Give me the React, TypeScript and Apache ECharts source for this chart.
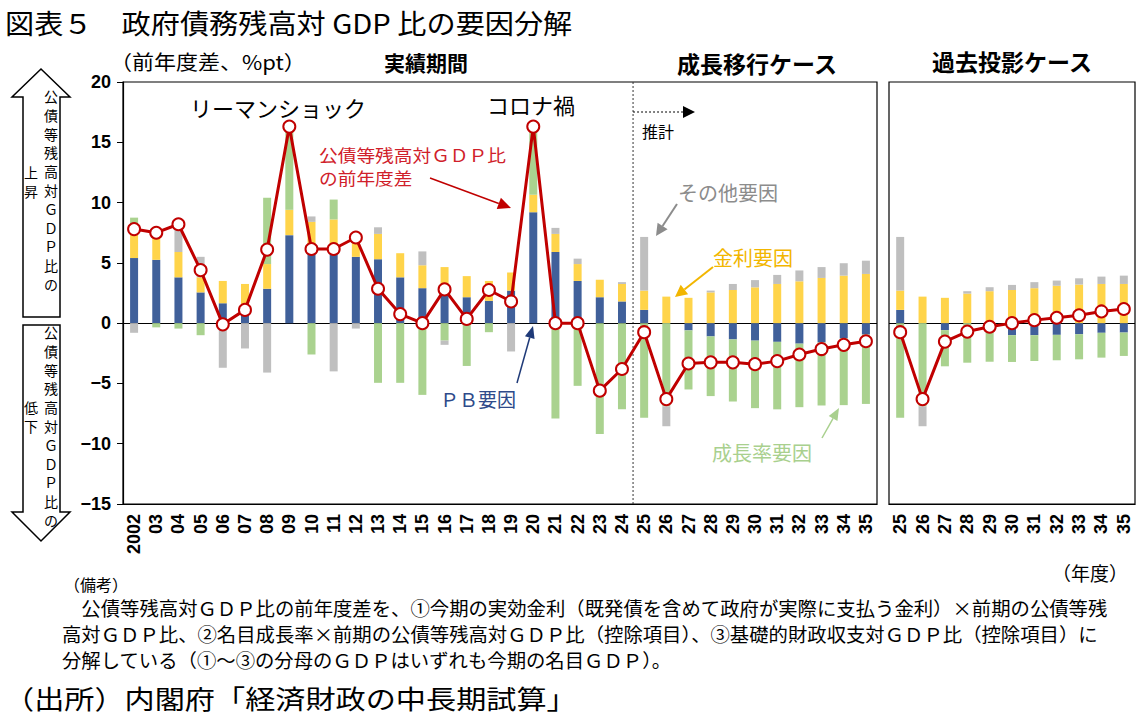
import React, { useEffect, useRef } from 'react';
import * as echarts from 'echarts';

// 年度ラベル（実績期間＋成長移行ケース）
const mainYears = [
  '2002', '03', '04', '05', '06', '07', '08', '09', '10', '11', '12', '13', '14', '15', '16', '17',
  '18', '19', '20', '21', '22', '23', '24', '25', '26', '27', '28', '29', '30', '31', '32', '33', '34', '35',
];
// 年度ラベル（過去投影ケース）
const pastYears = ['25', '26', '27', '28', '29', '30', '31', '32', '33', '34', '35'];

// 実績期間＋成長移行ケース（%pt）
const pbMain = [
  5.4, 5.25, 3.8, 2.55, 1.65, 1.0, 2.85, 7.3, 6.0, 5.9, 5.5, 5.3, 3.8, 2.9, 2.6, 2.15,
  1.85, 2.7, 9.2, 5.9, 3.5, 2.15, 1.8, 1.1, 0, -0.6, -1.1, -1.35, -1.45, -1.55, -1.7, -1.6, -1.25, -0.95,
];
const rateMain = [
  2.0, 1.9, 2.1, 1.25, 1.85, 2.25, 2.05, 2.1, 2.4, 2.7, 1.9, 2.1, 2.0, 1.9, 2.05, 1.75,
  1.65, 1.5, 1.45, 1.5, 1.4, 1.45, 1.45, 1.6, 2.2, 2.1, 2.55, 2.75, 2.97, 3.25, 3.47, 3.75, 3.94, 4.08,
];
const growthMain = [
  1.35, -0.35, -0.45, -1.0, 0, 0, 5.5, 6.9, -2.6, 1.65, 0, -4.95, -4.95, -5.95, -1.45, -3.55,
  -0.75, 0, 5.7, -7.9, -5.2, -9.2, -7.15, -7.85, -6.9, -4.9, -4.95, -5.15, -5.6, -5.6, -5.27, -5.23, -5.55, -5.75,
];
const otherMain = [
  -0.8, 0.7, 2.4, 1.7, -3.7, -2.1, -4.1, 0, 0.45, -4.0, -0.45, 0.55, 0, 1.15, -0.35, 0,
  0, -2.35, 0, 0.5, 0.45, 0, 0.15, 4.45, -1.65, 0, 0.15, 0.5, 0.6, 0.75, 0.9, 0.9, 1.03, 1.1,
];
const debtDiffMain = [
  7.8, 7.5, 8.2, 4.4, -0.1, 1.1, 6.1, 16.3, 6.15, 6.15, 7.1, 2.85, 0.75, 0.0, 2.8, 0.35,
  2.75, 1.8, 16.3, 0.0, 0.0, -5.6, -3.8, -0.75, -6.3, -3.35, -3.25, -3.25, -3.4, -3.15, -2.6, -2.15, -1.8, -1.5,
];

// 過去投影ケース（%pt）
const pbPast = [1.1, 0, -0.58, 0, -0.2, -1.0, -1.0, -0.97, -0.92, -0.8, -0.78];
const ratePast = [1.6, 2.2, 2.1, 2.45, 2.65, 2.75, 2.9, 3.1, 3.2, 3.25, 3.25];
const growthPast = [-7.85, -6.9, -3.0, -3.28, -3.0, -2.22, -2.14, -2.11, -2.08, -2.06, -1.94];
const otherPast = [4.45, -1.65, 0, 0.2, 0.33, 0.42, 0.5, 0.43, 0.52, 0.61, 0.69];
const debtDiffPast = [-0.75, -6.3, -1.53, -0.7, -0.3, 0.0, 0.25, 0.45, 0.65, 0.97, 1.17];

const Y_MIN = -15;
const Y_MAX = 20;
const Y_STEP = 5;

const C_PB = '#40609A';
const C_RATE = '#FFD44A';
const C_GROWTH = '#AAD28F';
const C_OTHER = '#BFBFBF';
const C_LINE = '#C00000';

const JP = '"Noto Sans CJK JP", "Noto Sans", sans-serif';
const NUM = '"Liberation Sans", Arial, sans-serif';

function barSeries(name: string, data: number[], color: string, idx: number) {
  return {
    type: 'bar',
    name,
    data,
    stack: 'factors' + idx,
    stackStrategy: 'samesign',
    xAxisIndex: idx,
    yAxisIndex: idx,
    barWidth: 8,
    itemStyle: { color },
    silent: true,
  };
}

function lineSeries(data: number[], idx: number) {
  return {
    type: 'line',
    name: '公債等残高対ＧＤＰ比の前年度差',
    data,
    xAxisIndex: idx,
    yAxisIndex: idx,
    symbol: 'circle',
    symbolSize: 12,
    z: 5,
    lineStyle: { color: C_LINE, width: 3 },
    itemStyle: { color: '#fff', borderColor: C_LINE, borderWidth: 2 },
    markLine: {
      silent: true,
      symbol: 'none',
      label: { show: false },
      lineStyle: { color: '#000', width: 1.2, type: 'solid' },
      data: [{ yAxis: 0 }],
      z: 1,
    },
  };
}

function arrow(x1: number, y1: number, x2: number, y2: number, color: string, width = 1.5, head = 12, half = 5) {
  const a = Math.atan2(y2 - y1, x2 - x1);
  const bx = x2 - head * Math.cos(a);
  const by = y2 - head * Math.sin(a);
  const px = -Math.sin(a) * half;
  const py = Math.cos(a) * half;
  return [
    { type: 'line', shape: { x1, y1, x2: bx, y2: by }, style: { stroke: color, lineWidth: width }, silent: true },
    {
      type: 'polygon',
      shape: { points: [[x2, y2], [bx + px, by + py], [bx - px, by - py]] },
      style: { fill: color },
      silent: true,
    },
  ];
}

function text(x: number, y: number, t: string, size: number, color = '#000', extra: any = {}, scaleX = 1) {
  return {
    type: 'text',
    x,
    y,
    scaleX,
    silent: true,
    style: {
      text: t,
      fontSize: size,
      fontFamily: JP,
      fill: color,
      align: 'left',
      verticalAlign: 'middle',
      ...extra,
    },
  };
}

// 縦書き：1文字ずつ下へ並べる
function vertical(x: number, y: number, t: string, size: number, step: number) {
  return Array.from(t).map((ch, i) => ({
    type: 'text',
    x,
    y: y + i * step,
    silent: true,
    style: {
      text: ch,
      fontSize: size,
      fontFamily: JP,
      fill: '#000',
      align: 'center',
      verticalAlign: 'top',
    },
  }));
}

function upDownArrows() {
  const up = [[41, 69], [70, 97], [60, 97], [60, 317], [23, 317], [23, 97], [12, 97]];
  const down = [[23, 325], [60, 325], [60, 512], [70, 512], [41, 541], [12, 512], [23, 512]];
  return [
    { type: 'polygon', shape: { points: up }, style: { fill: '#fff', stroke: '#000', lineWidth: 1.5 }, silent: true },
    { type: 'polygon', shape: { points: down }, style: { fill: '#fff', stroke: '#000', lineWidth: 1.5 }, silent: true },
    ...vertical(51, 89, '公債等残高対ＧＤＰ比の', 14, 18.8),
    ...vertical(31, 165, '上昇', 14, 19),
    ...vertical(51, 325, '公債等残高対ＧＤＰ比の', 14, 18.8),
    ...vertical(31, 400, '低下', 14, 19),
  ];
}

function yAxis(idx: number) {
  return {
    type: 'value',
    gridIndex: idx,
    min: Y_MIN,
    max: Y_MAX,
    interval: Y_STEP,
    axisLine: { show: idx === 0, lineStyle: { color: '#000', width: 1.2 } },
    axisTick: { show: idx === 0, length: 6, lineStyle: { color: '#000' } },
    axisLabel: {
      show: idx === 0,
      color: '#000',
      fontSize: 18,
      fontWeight: 'bold',
      fontFamily: NUM,
      margin: 12,
      formatter: (v: number) => (v < 0 ? '−' + Math.abs(v) : String(v)),
    },
    splitLine: { show: false },
  };
}

function xAxis(idx: number, data: string[]) {
  return {
    type: 'category',
    gridIndex: idx,
    data,
    axisLine: { show: true, onZero: false, lineStyle: { color: '#000', width: 1.2 } },
    axisTick: { show: false },
    axisLabel: {
      interval: 0,
      rotate: 90,
      color: '#000',
      fontSize: 18,
      fontWeight: 'bold',
      fontFamily: NUM,
      margin: 10,
    },
  };
}

export default function App() {
  const ref = useRef<HTMLDivElement>(null);

  useEffect(() => {
    if (!ref.current) return;
    const chart = echarts.init(ref.current, undefined, { renderer: 'svg' });
    chart.setOption({
      animation: false,
      backgroundColor: '#fff',
      grid: [
        { left: 123, top: 82, width: 754, height: 422, show: true, borderColor: '#000', borderWidth: 1.2, backgroundColor: 'transparent' },
        { left: 889, top: 82, width: 246, height: 422, show: true, borderColor: '#000', borderWidth: 1.2, backgroundColor: 'transparent' },
      ],
      xAxis: [xAxis(0, mainYears), xAxis(1, pastYears)],
      yAxis: [yAxis(0), yAxis(1)],
      series: [
        barSeries('ＰＢ要因', pbMain, C_PB, 0),
        barSeries('金利要因', rateMain, C_RATE, 0),
        barSeries('成長率要因', growthMain, C_GROWTH, 0),
        barSeries('その他要因', otherMain, C_OTHER, 0),
        lineSeries(debtDiffMain, 0),
        barSeries('ＰＢ要因', pbPast, C_PB, 1),
        barSeries('金利要因', ratePast, C_RATE, 1),
        barSeries('成長率要因', growthPast, C_GROWTH, 1),
        barSeries('その他要因', otherPast, C_OTHER, 1),
        lineSeries(debtDiffPast, 1),
      ],
    });

    // 実績と推計の境目（2024年度と2025年度の間）
    const x24 = chart.convertToPixel({ xAxisIndex: 0 }, '24') as number;
    const x25 = chart.convertToPixel({ xAxisIndex: 0 }, '25') as number;
    const xb = (x24 + x25) / 2;
    const yTop = chart.convertToPixel({ yAxisIndex: 0 }, Y_MAX) as number;
    const yBottom = chart.convertToPixel({ yAxisIndex: 0 }, Y_MIN) as number;

    const elements: any[] = [
      text(5, 22, '図表５　政府債務残高対 GDP 比の要因分解', 27, '#000', {}, 1.08),
      text(110, 61, '（前年度差、%pt）', 20, '#000', {}, 1.1),
      text(426, 62, '実績期間', 21, '#000', { align: 'center', fontWeight: 'bold' }),
      text(757, 63, '成長移行ケース', 23, '#000', { align: 'center', fontWeight: 'bold' }),
      text(1012, 61, '過去投影ケース', 23, '#000', { align: 'center', fontWeight: 'bold' }),
      ...upDownArrows(),
      {
        type: 'line',
        shape: { x1: xb, y1: yTop, x2: xb, y2: yBottom },
        style: { stroke: '#333', lineWidth: 1, lineDash: [2, 2] },
        silent: true,
      },
      {
        type: 'line',
        shape: { x1: xb, y1: 112, x2: 684, y2: 112 },
        style: { stroke: '#000', lineWidth: 1.2, lineDash: [2, 2] },
        silent: true,
      },
      { type: 'polygon', shape: { points: [[683, 106], [695, 112], [683, 118]] }, style: { fill: '#000' }, silent: true },
      text(642, 131, '推計', 16),
      text(190, 107, 'リーマンショック', 22),
      text(487, 104, 'コロナ禍', 22),
      text(319, 154, '公債等残高対ＧＤＰ比', 17, '#D0202A', {}, 1.1),
      text(319, 177, 'の前年度差', 17, '#D0202A', {}, 1.1),
      ...arrow(430, 178, 511, 208, '#C00000', 1.5, 13, 6),
      text(678, 192, 'その他要因', 20, '#8C8C8C'),
      ...arrow(677, 204, 656, 236, '#8C8C8C', 2, 12, 6),
      text(713, 257, '金利要因', 20, '#F2B600'),
      ...arrow(713, 267, 675, 297, '#F2B600', 2, 12, 6),
      text(440, 398, 'ＰＢ要因', 19, '#2E4A8A'),
      ...arrow(517, 383, 533, 326, '#1F3A78', 1.5, 12, 5),
      text(712, 452, '成長率要因', 20, '#A9D08E'),
      ...arrow(822, 438, 839, 408, '#A9D08E', 1.5, 12, 5),
      text(1052, 572, '（年度）', 19),
      text(64, 584, '（備考）', 16),
      text(62, 608, '　公債等残高対ＧＤＰ比の前年度差を、①今期の実効金利（既発債を含めて政府が実際に支払う金利）×前期の公債等残', 18.8, '#000', {}, 1.03),
      text(62, 634, '高対ＧＤＰ比、②名目成長率×前期の公債等残高対ＧＤＰ比（控除項目）、③基礎的財政収支対ＧＤＰ比（控除項目）に', 18.8, '#000', {}, 1.03),
      text(62, 660, '分解している（①～③の分母のＧＤＰはいずれも今期の名目ＧＤＰ）。', 18.8, '#000', {}, 1.03),
      text(4, 697, '（出所）内閣府「経済財政の中長期試算」', 26, '#000', {}, 1.16),
    ];
    chart.setOption({ graphic: { elements } });

    return () => chart.dispose();
  }, []);

  return (
    <div
      ref={ref}
      style={{ position: 'fixed', left: 0, top: 0, width: 1141, height: 715, background: '#fff' }}
    />
  );
}
